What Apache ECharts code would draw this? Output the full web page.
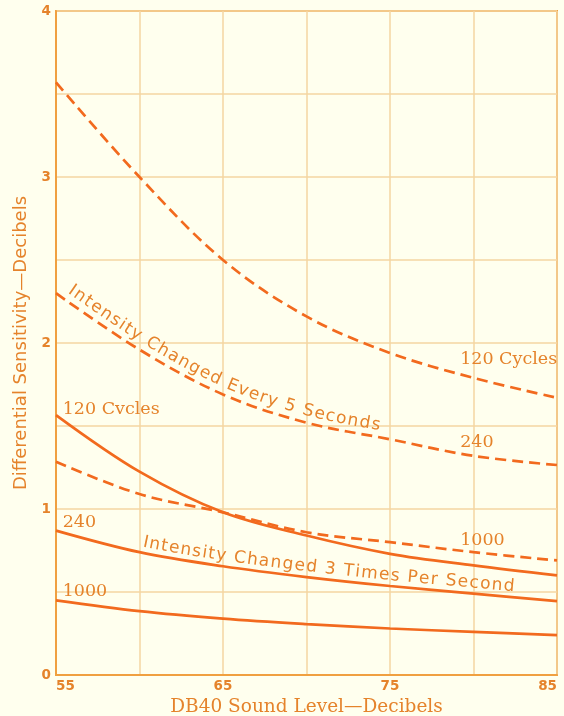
<!DOCTYPE html>
<html>
<head>
<meta charset="utf-8">
<script src="https://cdn.jsdelivr.net/npm/echarts@6/dist/echarts.min.js"></script>
<style>
  html, body { margin: 0; padding: 0; background: #FFFFEE; }
  #chart { width: 564px; height: 716px; }
</style>
</head>
<body>
<div id="chart"></div>
<script>
// Sound level (DB40, decibels) at which each sensitivity was measured
const levels = [55, 60, 65, 70, 75, 80, 85];

// Intensity changed every 5 seconds (dashed curves)
const slow120 = [3.57, 3.00, 2.50, 2.16, 1.94, 1.79, 1.67];
const slow240 = [2.30, 1.96, 1.69, 1.52, 1.42, 1.32, 1.265];
const slow1000 = [1.285, 1.09, 0.98, 0.86, 0.80, 0.74, 0.69];

// Intensity changed 3 times per second (solid curves)
const fast120 = [1.566, 1.225, 0.98, 0.84, 0.73, 0.66, 0.60];
const fast240 = [0.87, 0.74, 0.655, 0.59, 0.536, 0.49, 0.445];
const fast1000 = [0.45, 0.385, 0.34, 0.307, 0.28, 0.26, 0.24];

// Frequency labels placed in data coordinates
const curveLabels = [
  { text: '120 Cycles', at: [79.2, 1.90] },
  { text: '240', at: [79.2, 1.40] },
  { text: '1000', at: [79.2, 0.81] },
  { text: '120 Cvcles', at: [55.4, 1.60] },
  { text: '240', at: [55.4, 0.92] },
  { text: '1000', at: [55.4, 0.505] }
];

const xTickLabels = [55, 65, 75, 85];
const yTickLabels = [0, 1, 2, 3, 4];

const LINE = '#F26A1E';
const TEXT = '#E5832B';
const AXIS = '#F0A040';
const GRID = '#F4D6A2';

const pair = vals => levels.map((x, i) => [x, vals[i]]);

function lineSeries(name, vals, dashed) {
  return {
    name: name,
    type: 'line',
    data: pair(vals),
    smooth: 0.35,
    symbol: 'none',
    silent: true,
    lineStyle: {
      color: LINE,
      width: 2.7,
      type: dashed ? [11, 6] : 'solid',
      cap: 'butt'
    },
    z: 5
  };
}

const chart = echarts.init(document.getElementById('chart'), null, { renderer: 'canvas' });

chart.setOption({
  backgroundColor: '#FFFFEE',
  animation: false,
  grid: {
    left: 56, right: 7, top: 11, bottom: 41,
    containLabel: false,
    outerBoundsMode: 'none',
    show: true, borderColor: AXIS, borderWidth: 2, backgroundColor: 'transparent'
  },
  xAxis: {
    type: 'value',
    min: 55, max: 85, interval: 5,
    name: 'DB40 Sound Level\u2014Decibels',
    nameLocation: 'middle',
    nameGap: 13,
    nameTextStyle: { color: TEXT, fontFamily: 'DejaVu Serif', fontSize: 18.5 },
    axisLine: { lineStyle: { color: AXIS, width: 2 } },
    axisTick: { show: false },
    axisLabel: {
      color: TEXT, fontFamily: 'DejaVu Sans', fontWeight: 'bold', fontSize: 13.5, margin: 4,
      alignMinLabel: 'left', alignMaxLabel: 'right',
      formatter: v => (xTickLabels.indexOf(v) >= 0 ? String(v) : '')
    },
    splitLine: { show: true, lineStyle: { color: GRID, width: 1.5 } }
  },
  yAxis: {
    type: 'value',
    min: 0, max: 4, interval: 0.5,
    name: 'Differential Sensitivity\u2014Decibels',
    nameLocation: 'middle',
    nameGap: 25,
    nameTextStyle: { color: TEXT, fontFamily: 'DejaVu Sans', fontSize: 18 },
    axisLine: { lineStyle: { color: AXIS, width: 2 } },
    axisTick: { show: false },
    axisLabel: {
      color: TEXT, fontFamily: 'DejaVu Sans', fontWeight: 'bold', fontSize: 13.5, margin: 5,
      formatter: v => (yTickLabels.indexOf(v) >= 0 ? String(v) : '')
    },
    splitLine: { show: true, lineStyle: { color: GRID, width: 1.5 } }
  },
  series: [
    lineSeries('5 s \u2013 120', slow120, true),
    lineSeries('5 s \u2013 240', slow240, true),
    lineSeries('5 s \u2013 1000', slow1000, true),
    lineSeries('3/s \u2013 120', fast120, false),
    lineSeries('3/s \u2013 240', fast240, false),
    lineSeries('3/s \u2013 1000', fast1000, false)
  ]
});

// ---- text that follows a curve ----
const measureCtx = document.createElement('canvas').getContext('2d');

function toPx(p) { return chart.convertToPixel({ gridIndex: 0 }, p); }

// Dense Catmull-Rom sampling of a curve given in data coordinates
function samplePath(vals) {
  const pts = pair(vals).map(toPx);
  const out = [];
  for (let i = 0; i < pts.length - 1; i++) {
    const p0 = pts[Math.max(i - 1, 0)], p1 = pts[i], p2 = pts[i + 1], p3 = pts[Math.min(i + 2, pts.length - 1)];
    for (let k = 0; k < 40; k++) {
      const t = k / 40, t2 = t * t, t3 = t2 * t;
      const f = (a, b, c, d) => 0.5 * ((2 * b) + (-a + c) * t + (2 * a - 5 * b + 4 * c - d) * t2 + (-a + 3 * b - 3 * c + d) * t3);
      out.push([f(p0[0], p1[0], p2[0], p3[0]), f(p0[1], p1[1], p2[1], p3[1])]);
    }
  }
  out.push(pts[pts.length - 1]);
  const len = [0];
  for (let i = 1; i < out.length; i++) {
    len.push(len[i - 1] + Math.hypot(out[i][0] - out[i - 1][0], out[i][1] - out[i - 1][1]));
  }
  return { pts: out, len: len };
}

function pointAt(path, s) {
  const { pts, len } = path;
  let i = 1;
  while (i < len.length - 1 && len[i] < s) i++;
  const a = pts[i - 1], b = pts[i];
  const seg = len[i] - len[i - 1] || 1;
  const t = Math.min(Math.max((s - len[i - 1]) / seg, 0), 1);
  const dx = b[0] - a[0], dy = b[1] - a[1];
  const d = Math.hypot(dx, dy) || 1;
  return { x: a[0] + dx * t, y: a[1] + dy * t, tx: dx / d, ty: dy / d };
}

function arcAtX(path, px) {
  const { pts, len } = path;
  for (let i = 1; i < pts.length; i++) {
    if (pts[i][0] >= px) {
      const a = pts[i - 1], b = pts[i];
      const t = (px - a[0]) / ((b[0] - a[0]) || 1);
      return len[i - 1] + (len[i] - len[i - 1]) * t;
    }
  }
  return len[len.length - 1];
}

function curvedText(vals, text, fromX, toX, offset, font) {
  const path = samplePath(vals);
  const s0 = arcAtX(path, toPx([fromX, 0])[0]);
  const s1 = arcAtX(path, toPx([toX, 0])[0]);
  measureCtx.font = font;
  const widths = [...text].map(c => measureCtx.measureText(c).width);
  const total = widths.reduce((a, b) => a + b, 0);
  const gap = (s1 - s0 - total) / (widths.length - 1);
  const els = [];
  let s = s0;
  [...text].forEach((c, i) => {
    const mid = s + widths[i] / 2;
    const p = pointAt(path, mid);
    // normal pointing above the curve
    const nx = p.ty, ny = -p.tx;
    if (c !== ' ') {
      els.push({
        type: 'text',
        x: p.x + nx * offset,
        y: p.y + ny * offset,
        rotation: -Math.atan2(p.ty, p.tx),
        silent: true,
        z: 10,
        style: { text: c, font: font, fill: TEXT, textAlign: 'center', textVerticalAlign: 'bottom' }
      });
    }
    s += widths[i] + gap;
  });
  return els;
}

const labelFont = '17.5px "DejaVu Serif"';
const graphics = [];

curveLabels.forEach(l => {
  const p = toPx(l.at);
  graphics.push({
    type: 'text', x: p[0], y: p[1], silent: true, z: 10,
    style: { text: l.text, font: labelFont, fill: TEXT, textAlign: 'left', textVerticalAlign: 'middle' }
  });
});

const curveFont = '17px "DejaVu Sans"';
graphics.push(...curvedText(slow240, 'Intensity Changed Every 5 Seconds', 55.45, 74.3, 3, curveFont));
graphics.push(...curvedText(fast240, 'Intensity Changed 3 Times Per Second', 60.1, 82.4, 2, curveFont));

chart.setOption({ graphic: { elements: graphics } });
</script>
</body>
</html>
